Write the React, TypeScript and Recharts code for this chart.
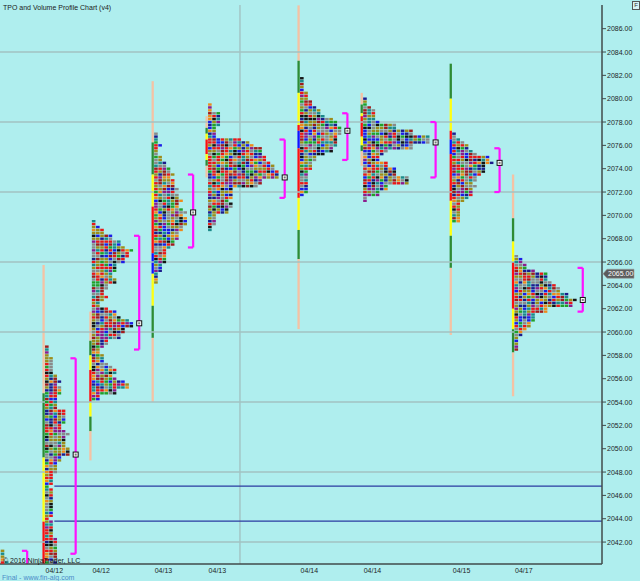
import React from 'react';
import { ComposedChart, Scatter, XAxis, YAxis, ReferenceLine, ReferenceArea, ReferenceDot } from 'recharts';

// ---------------- data ----------------
const sessionDates = ['', '04/12', '04/12', '04/13', '04/13', '04/14', '04/14', '04/15', '04/17'];
// x position of each session (time slot, in TPO-column units)
const sessionSlots = [2.4, 13.0, 24.2, 39.1, 52.0, 74.0, 89.1, 110.4, 125.3];
// highest price of each TPO profile
const profileTops = [2041.25, 2058.75, 2069.5, 2077.0, 2079.5, 2081.75, 2080.0, 2077.0, 2066.5];

// TPO count per 0.25 price row, top to bottom
const tpoS0 = [1, 1, 1, 1, 2, 3, 4, 5, 5, 5, 4, 3];
const tpoS1 = [1, 1, 1, 1, 2, 2, 2, 2, 2, 2, 3, 3, 4, 3, 4, 4, 4, 3, 3, 3, 3, 3, 5, 5, 5, 5, 5, 4, 4,
  5, 6, 5, 5, 5, 5, 6, 6, 6, 4, 4, 3, 3, 3, 3, 2, 2, 2, 2, 1, 2, 2, 2, 2, 2, 2, 2, 2, 2, 2, 1,
  2, 2, 2, 2, 2, 2, 3, 3, 3, 3, 3, 3, 3, 3, 3];
const tpoS2 = [1, 1, 2, 3, 3, 5, 5, 7, 7, 8, 10, 9, 9, 8, 8, 6, 6, 6, 5, 5, 6, 6, 4, 4, 3, 3, 4, 3, 2, 2,
  4, 6, 6, 7, 9, 10, 10, 8, 8, 7, 7, 4, 4, 3, 2, 2, 3, 3, 3, 4, 5, 6, 6, 5, 6, 8, 9, 9, 6, 6, 2, 2];
const tpoS3 = [1, 1, 1, 1, 2, 1, 1, 1, 2, 2, 3, 3, 4, 4, 5, 4, 5, 5, 5, 6, 5, 6, 6, 7, 6, 6, 7, 8, 7, 8,
  8, 8, 7, 7, 6, 6, 6, 5, 5, 4, 3, 3, 3, 3, 3, 2, 2, 2, 1, 1, 1, 1];
const tpoS4 = [1, 1, 1, 3, 3, 3, 3, 3, 2, 2, 2, 2, 8, 10, 11, 13, 13, 13, 14, 14, 15, 16, 16, 17, 17, 17,
  13, 13, 12, 6, 6, 6, 6, 5, 6, 6, 5, 5, 2, 2, 2, 2, 1, 1];
const tpoS5 = [1, 1, 1, 1, 1, 2, 2, 2, 3, 3, 4, 5, 5, 6, 8, 9, 9, 10, 10, 10, 9, 9, 9, 9, 8, 8, 6, 4, 4, 3,
  3, 3, 2, 2, 2, 2, 2, 2, 2, 2, 1];
const tpoS6 = [1, 1, 1, 2, 3, 3, 3, 3, 4, 8, 8, 12, 12, 16, 16, 16, 12, 12, 6, 5, 4, 4, 6, 6, 8, 8, 8, 11,
  11, 11, 6, 6, 4, 4, 1, 1];
const tpoS7 = [1, 1, 2, 3, 4, 4, 5, 6, 9, 9, 10, 8, 8, 8, 7, 6, 6, 5, 6, 5, 5, 5, 4, 3, 2, 2, 2, 2, 2, 2, 2];
const tpoS8 = [1, 2, 2, 3, 3, 5, 8, 8, 8, 9, 10, 11, 11, 13, 13, 15, 14, 14, 8, 8, 5, 5, 5, 4, 4, 3, 2, 2,
  1, 1, 1, 1, 1];
const profiles = [tpoS0, tpoS1, tpoS2, tpoS3, tpoS4, tpoS5, tpoS6, tpoS7, tpoS8];

const valueAreaHigh = [2041.25, 2057.75, 2068.25, 2073.5, 2076.5, 2078.75, 2078.0, 2075.75, 2065.5];
const valueAreaLow = [2038.5, 2041.0, 2058.5, 2067.25, 2071.5, 2074.75, 2073.25, 2072.0, 2061.75];
const pocPrices = [2039.5, 2049.5, 2060.75, 2070.25, 2073.25, 2077.25, 2076.25, 2074.5, 2062.75];

// range bar segments: price edges (top to bottom) and segment kind
const barEdges = [
  [],
  [2065.75, 2054.75, 2049.25, 2043.75, 2038.0],
  [2061.75, 2059.25, 2058.0, 2056.75, 2054.0, 2052.75, 2051.5, 2049.0],
  [2081.5, 2076.25, 2073.5, 2070.75, 2066.75, 2065.0, 2062.25, 2059.5, 2054.0],
  [2078.5, 2077.5, 2077.0, 2076.5, 2075.25, 2074.75, 2074.25, 2073.25],
  [2088.0, 2083.25, 2080.5, 2077.75, 2077.25, 2075.75, 2071.5, 2068.75, 2066.25, 2060.25],
  [2080.5, 2079.5, 2078.75, 2078.5, 2076.75, 2076.0, 2075.5, 2074.25],
  [2083.0, 2080.0, 2077.25, 2076.5, 2075.25, 2071.25, 2068.25, 2065.5, 2059.75],
  [2073.5, 2069.75, 2067.75, 2066.0, 2062.0, 2060.25, 2058.25, 2054.5],
];
const barKinds = [
  [],
  ['P', 'G', 'Y', 'R'],
  ['P', 'G', 'Y', 'R', 'Y', 'G', 'P'],
  ['P', 'G', 'Y', 'R', 'B', 'Y', 'G', 'P'],
  ['P', 'G', 'Y', 'R', 'Y', 'G', 'P'],
  ['P', 'G', 'Y', 'R', 'B', 'R', 'Y', 'G', 'P'],
  ['P', 'G', 'Y', 'R', 'Y', 'G', 'P'],
  ['G', 'Y', 'R', 'B', 'R', 'Y', 'G', 'P'],
  ['P', 'G', 'Y', 'R', 'Y', 'G', 'P'],
];

const priceTicks = [2042, 2044, 2046, 2048, 2050, 2052, 2054, 2056, 2058, 2060, 2062, 2064, 2066, 2068,
  2070, 2072, 2074, 2076, 2078, 2080, 2082, 2084, 2086];
const horizontalGrid = [2042, 2048, 2054, 2060, 2066, 2072, 2078, 2084];
const verticalGrid = [57.4];
const levelLines = [2046.8, 2043.8];
const lastPrice = 2065.0;

// ---------------- styling / layout ----------------
const BG = '#afeeee';
const GRID = '#a2c2c2';
const AXIS = '#404a4a';
const FONT = '"Liberation Sans", Arial, sans-serif';
const X_MAX = 144;
const Y_DOMAIN: [number, number] = [2040.12, 2088.03];
const ROW = 0.25;
const BLOCK_OFFSET = 2.3;
const BAR_W = 0.55;
const BRACKET_GAP = 1.4;
const STUB = 1.25;
const BAR_COLORS: Record<string, string> = { P: '#f4c2a4', G: '#2e8b34', Y: '#ffff10', R: '#ff1010', B: '#1010ff' };
const PALETTE = ['#e81818', '#1c1ce6', '#22a02a', '#9c8c1c', '#8a8a8a', '#ee8a1c', '#8c1c8c',
  '#a01c1c', '#1c8a8a', '#141414', '#1c1c8c', '#e81818', '#8a8a8a', '#9c8c1c'];

function colorFor(s: number, r: number, c: number) {
  let h = Math.imul(s + 7, 73856093) ^ Math.imul(r + 13, 19349663) ^ Math.imul(c + 3, 83492791);
  h = Math.imul(h ^ (h >>> 13), 1274126177);
  h ^= h >>> 16;
  return PALETTE[Math.abs(h) % PALETTE.length];
}

const blocks: { x: number; y: number; color: string }[] = [];
const bracketX: number[] = [];
profiles.forEach((rows, s) => {
  const start = sessionSlots[s] - BLOCK_OFFSET;
  rows.forEach((w, r) => {
    for (let c = 0; c < w; c++) {
      blocks.push({ x: start + c + 0.5, y: profileTops[s] - r * ROW, color: colorFor(s, r, c) });
    }
  });
  bracketX.push(start + Math.max(...rows) + BRACKET_GAP);
});
const pocPoints = pocPrices.map((p, s) => ({ x: bracketX[s], y: p }));
const dateBySlot: Record<string, string> = {};
sessionSlots.forEach((x, i) => { dateBySlot[x.toFixed(2)] = sessionDates[i]; });
const xTicks = sessionSlots.filter((_, i) => sessionDates[i] !== '');

const BlockShape = (props: any) => {
  const { cx, cy, payload } = props;
  if (cx == null || cy == null) return null;
  return <rect x={cx - 1.8} y={cy - 1.2} width={3.6} height={2.4} fill={payload.color} />;
};
const PocShape = (props: any) => {
  const { cx, cy } = props;
  if (cx == null || cy == null) return null;
  return (
    <g>
      <rect x={cx - 3} y={cy - 3} width={6} height={6} fill="#111" />
      <rect x={cx - 2} y={cy - 2} width={4} height={4} fill="#fff" />
      <rect x={cx - 1} y={cy - 1} width={2} height={2} fill="#777" />
    </g>
  );
};
const LastPriceShape = (props: any) => {
  const { cx, cy } = props;
  const x0 = cx + 1;
  return (
    <g>
      <polygon points={`${x0},${cy} ${x0 + 4},${cy - 4.5} ${x0 + 31},${cy - 4.5} ${x0 + 31},${cy + 4.5} ${x0 + 4},${cy + 4.5}`}
        fill="#5c5c5c" stroke="#9a9a9a" strokeWidth={0.6} />
      <text x={x0 + 5} y={cy + 2.6} fontSize={7} fill="#fff" fontFamily={FONT}>{lastPrice.toFixed(2)}</text>
    </g>
  );
};
const YTick = (props: any) => {
  const { x, y, payload } = props;
  return (
    <text x={x} y={y} dy={2.5} fontSize={7} fill="#1e1e1e" fontFamily={FONT} textAnchor="start">
      {Number(payload.value).toFixed(2)}
    </text>
  );
};
const XTick = (props: any) => {
  const { x, y, payload } = props;
  return (
    <text x={x} y={y} dy={4.5} fontSize={7} fill="#1e1e1e" fontFamily={FONT} textAnchor="middle">
      {dateBySlot[Number(payload.value).toFixed(2)]}
    </text>
  );
};

export default function App() {
  const bars: React.ReactNode[] = [];
  barEdges.forEach((edges, s) => {
    for (let i = 0; i < edges.length - 1; i++) {
      bars.push(
        <ReferenceArea key={`bar-${s}-${i}`} x1={sessionSlots[s] - BLOCK_OFFSET - BAR_W} x2={sessionSlots[s] - BLOCK_OFFSET}
          y1={edges[i + 1]} y2={edges[i]} fill={BAR_COLORS[barKinds[s][i]]} fillOpacity={1} stroke="none" ifOverflow="hidden" />
      );
    }
  });
  const brackets: React.ReactNode[] = [];
  bracketX.forEach((bx, s) => {
    const segs = [
      [{ x: bx, y: valueAreaHigh[s] }, { x: bx, y: valueAreaLow[s] }],
      [{ x: bx - STUB, y: valueAreaHigh[s] }, { x: bx, y: valueAreaHigh[s] }],
      [{ x: bx - STUB, y: valueAreaLow[s] }, { x: bx, y: valueAreaLow[s] }],
    ];
    segs.forEach((seg, k) => brackets.push(
      <ReferenceLine key={`br-${s}-${k}`} segment={seg} stroke="#ff10ff" strokeWidth={2.2} ifOverflow="hidden" />
    ));
  });

  return (
    <div style={{ position: 'fixed', left: 0, top: 0, width: 640, height: 581, background: BG, overflow: 'hidden' }}>
      <ComposedChart width={640} height={581} margin={{ top: 5, right: 0, bottom: 0, left: 0 }}>
        <XAxis dataKey="x" type="number" domain={[0, X_MAX]} allowDataOverflow ticks={xTicks} tick={XTick}
          tickLine={false} tickSize={0} tickMargin={4} height={17} interval={0}
          axisLine={{ stroke: AXIS, strokeWidth: 1.5 }} />
        <YAxis dataKey="y" type="number" orientation="right" domain={Y_DOMAIN} allowDataOverflow ticks={priceTicks}
          width={38} tick={YTick} tickSize={4} tickMargin={1} interval={0}
          tickLine={{ stroke: AXIS }} axisLine={{ stroke: AXIS, strokeWidth: 1.5 }} />
        {horizontalGrid.map((g) => (
          <ReferenceLine key={`hg-${g}`} y={g} stroke={GRID} strokeWidth={1.6} />
        ))}
        {verticalGrid.map((g) => (
          <ReferenceLine key={`vg-${g}`} x={g} stroke={GRID} strokeWidth={1.4} />
        ))}
        {levelLines.map((p) => (
          <ReferenceLine key={`lv-${p}`} segment={[{ x: sessionSlots[1], y: p }, { x: X_MAX, y: p }]}
            stroke="#2a3aa0" strokeWidth={1.2} />
        ))}
        {bars}
        <Scatter data={blocks} dataKey="y" shape={BlockShape} isAnimationActive={false} />
        {brackets}
        <Scatter data={pocPoints} dataKey="y" shape={PocShape} isAnimationActive={false} />
        <ReferenceDot x={X_MAX} y={lastPrice} shape={LastPriceShape} />
      </ComposedChart>
      <div style={{ position: 'absolute', left: 3, top: 4, fontFamily: FONT, fontSize: 7, lineHeight: '8px', color: '#1a1a1a' }}>
        TPO and Volume Profile Chart (v4)
      </div>
      <div style={{ position: 'absolute', left: 632, top: 1, width: 6, height: 7, border: '1px solid #555', fontFamily: FONT,
        fontSize: 6, lineHeight: '7px', textAlign: 'center', color: '#333', background: '#d8f4f4' }}>F</div>
      <div style={{ position: 'absolute', left: 3, top: 557, fontFamily: FONT, fontSize: 7, lineHeight: '7px', color: '#1a1a1a' }}>
        © 2016 NinjaTrader, LLC
      </div>
      <div style={{ position: 'absolute', left: 2, top: 574, fontFamily: FONT, fontSize: 7, lineHeight: '7px', color: '#4a8cc8' }}>
        Final - www.fin-alg.com
      </div>
    </div>
  );
}
